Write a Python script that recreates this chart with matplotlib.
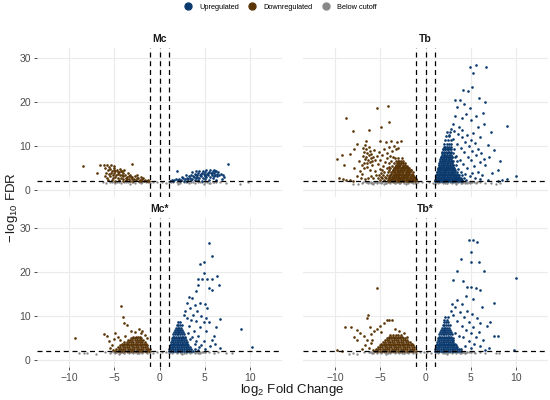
import numpy as np
import matplotlib
matplotlib.use("Agg")
import matplotlib.pyplot as plt
from matplotlib.lines import Line2D

plt.rcParams['font.family'] = ['Liberation Sans', 'DejaVu Sans']
plt.rcParams['mathtext.default'] = 'regular'

PANELS = ["Mc", "Tb", "Mc*", "Tb*"]
CATEGORIES = ["Upregulated", "Downregulated", "Below cutoff"]
COLORS = ["#0b3a6e", "#5a3508", "#888888"]
X_TICKS = [-10, -5, 0, 5, 10]
Y_TICKS = [0, 10, 20, 30]
FC_CUT = [-1, 0, 1]
FDR_CUT = 2

# ---------------- Mc ----------------
MC_DOWN = [(-8.5,5.5),(-6.6,5.6),(-6.2,5.7),(-5.8,5.6),(-5.4,5.6),(-5.1,5.5),(-3.0,5.9),(-6.9,3.8),
 (-6.0,4.9),(-5.7,4.6),(-5.5,4.8),(-5.3,4.4),(-5.1,4.6),(-4.9,4.3),(-4.7,4.5),(-4.5,4.1),(-4.3,4.2),(-4.1,3.9),
 (-5.9,3.9),(-5.6,3.6),(-5.4,3.9),(-5.2,3.5),(-5.0,3.8),(-4.8,3.4),(-4.6,3.6),(-4.4,3.3),(-4.2,3.5),(-4.0,3.1),
 (-3.8,3.4),(-3.6,3.0),(-3.4,3.2),(-3.2,2.9),(-3.0,3.0),(-6.1,3.1),(-5.8,2.8),(-5.5,3.1),(-5.2,2.7),(-4.9,2.9),
 (-4.6,2.6),(-4.3,2.8),(-4.0,2.5),(-3.7,2.6),(-3.4,2.4),(-3.1,2.5),(-2.8,2.4),(-2.5,2.6),(-2.2,2.3),(-1.9,2.4),
 (-1.6,2.2),(-1.3,2.3),(-5.7,2.2),(-5.3,2.3),(-4.9,2.1),(-4.5,2.2),(-4.1,2.1),(-3.7,2.2),(-3.3,2.1),(-2.9,2.1),
 (-2.6,2.2),(-2.3,2.1),(-2.0,2.1),(-1.7,2.05),(-1.4,2.1),(-1.2,2.05),(-3.9,4.5),(-4.4,4.8),(-2.5,3.4),(-2.0,2.9),
 (-3.5,3.8),(-2.7,3.1),(-5.0,5.0),(-4.6,4.0),(-3.3,3.5),(-5.6,5.2),(-4.2,4.4),(-3.6,2.4),(-2.4,2.8),(-1.8,2.6)]
MC_UP = [(7.6,5.9),(1.9,4.3),(1.2,2.1),(1.4,2.3),(1.6,2.2),(1.8,2.4),(2.0,2.2),(2.2,2.5),(2.4,2.3),(2.6,2.6),
 (2.8,2.4),(3.0,2.7),(3.2,2.5),(3.4,2.8),(3.6,2.4),(3.8,2.9),(4.0,2.6),(4.2,3.0),(4.4,2.7),(4.6,3.1),(4.8,2.8),
 (5.0,3.2),(5.2,2.9),(5.4,3.3),(5.6,3.0),(5.8,3.4),(6.0,3.1),(6.2,3.5),(6.4,3.2),(6.6,3.3),(2.5,3.0),(2.9,3.3),
 (3.3,3.1),(3.5,3.5),(3.7,3.2),(3.9,3.6),(4.1,3.4),(4.3,3.8),(4.5,3.5),(4.7,3.9),(4.9,3.6),(5.1,4.0),(5.3,3.7),
 (5.5,4.1),(5.7,3.8),(5.9,4.2),(6.1,3.9),(6.3,4.3),(6.5,4.0),(6.8,3.6),(7.0,3.4),(4.4,4.2),(4.8,4.4),(5.2,4.5),
 (5.6,4.5),(6.0,4.6),(6.2,4.4),(3.6,4.0),(4.0,4.2),(1.5,2.05),(2.3,2.1),(3.1,2.1),(3.9,2.15),(4.7,2.1),(5.5,2.2),
 (6.3,2.3),(6.9,2.5),(7.2,2.9),(3.5,2.2),(4.3,2.3),(5.1,2.4),(5.9,2.6),(2.7,2.1),(4.6,3.7),(5.4,3.9),(5.8,3.9),
 (6.4,3.7),(5.0,3.5),(4.2,3.3)]
MC_NS = [(-6.3,1.8),(-5.9,1.6),(-5.5,1.9),(-5.1,1.7),(-4.7,1.8),(-4.3,1.6),(-3.9,1.9),(-3.5,1.7),(-3.1,1.8),
 (-2.7,1.6),(-2.3,1.9),(-1.9,1.7),(-1.5,1.8),(-1.1,1.6),(-0.7,1.8),(-0.3,1.7),(0.3,1.8),(0.7,1.6),(1.1,1.9),
 (1.5,1.7),(1.9,1.8),(2.3,1.6),(2.7,1.9),(3.1,1.7),(3.5,1.8),(3.9,1.6),(4.3,1.9),(4.7,1.7),(5.1,1.8),(5.5,1.6),
 (5.9,1.9),(6.3,1.7),(6.7,1.8),(7.4,1.6),(8.9,1.3),(9.8,1.7),(-4.9,1.5),(-3.3,1.45),(-2.0,1.5),(2.0,1.45),
 (3.3,1.5),(4.9,1.45),(5.6,1.5),(-5.3,1.85),(-4.5,1.85),(-3.7,1.85),(-2.9,1.85),(-2.1,1.85),(-1.3,1.9),
 (1.3,1.85),(2.1,1.85),(2.9,1.85),(3.7,1.85),(4.5,1.85),(5.3,1.85),(6.1,1.85)]

# ---------------- Tb ----------------
TB_DOWN = [(-8.8,16.4),(-5.4,18.6),(-4.2,19.1),(-4.1,15.4),(-4.9,14.2),(-8.1,13.3),(-6.3,13.7),(-9.8,7.0),
 (-9.3,7.9),(-9.1,5.6),(-8.4,8.2),(-7.9,5.0),(-7.6,10.5),(-7.9,9.4),(-6.6,11.2),(-6.7,10.1),(-5.0,11.2),
 (-4.4,10.9),(-3.8,11.1),(-3.2,10.8),(-2.7,11.0),(-9.6,2.6),(-9.2,2.4),(-8.8,2.3),(-8.4,2.2),(-8.1,2.1),
 (-6.9,9.6),(-6.6,9.2),(-6.3,9.8),(-6.8,8.6),(-6.5,8.3),(-6.2,8.8),(-6.9,7.8),(-6.6,7.5),(-6.3,7.9),(-6.0,8.1),
 (-6.7,7.0),(-6.4,6.8),(-6.1,7.2),(-5.8,7.4),(-6.8,6.2),(-6.5,6.0),(-6.2,6.4),(-5.9,6.6),(-5.6,6.9),
 (-7.4,6.5),(-7.1,5.7),(-7.3,4.4),(-7.0,3.6),(-6.8,4.9),(-6.5,5.3),(-6.2,4.6),(-5.9,5.6),(-5.6,4.2),(-5.3,5.9),
 (-5.0,6.8),(-4.8,7.9),(-5.2,8.6),(-4.6,9.3),(-4.3,8.4),(-4.0,9.8),(-3.7,8.9),(-3.5,10.0),(-3.3,9.2),(-3.0,9.6),
 (-5.5,3.3),(-5.8,2.8),(-6.1,3.1),(-6.4,2.6),(-6.7,2.4),(-7.2,2.8),(-7.6,3.2),(-5.1,4.8),(-4.9,3.9),(-4.7,5.4),
 (-4.5,6.3),(-4.3,7.2),(-4.1,5.1),(-5.4,7.6),(-5.7,9.0),(-3.9,7.7),(-3.6,7.4)]
TB_DOWN_MID = [(2.2, [-5.0,-4.6,-4.2,-3.8,-3.4,-3.0,-2.6,-2.2,-1.8,-1.4,-1.1]),
 (2.6, [-5.3,-4.8,-4.4,-4.0,-3.6,-3.2,-2.8,-2.4,-2.0,-1.6,-1.2]),
 (3.0, [-4.9,-4.5,-4.1,-3.7,-3.3,-2.9,-2.5,-2.1,-1.7,-1.3]),
 (3.5, [-5.2,-4.7,-4.3,-3.9,-3.5,-3.1,-2.7,-2.3,-1.9,-1.5]),
 (4.0, [-4.6,-4.2,-3.8,-3.4,-3.0,-2.6,-2.2,-1.8,-1.4]),
 (4.5, [-4.8,-4.0,-3.6,-3.2,-2.8,-2.4,-2.0,-1.6]),
 (5.0, [-4.3,-3.9,-3.5,-3.1,-2.7,-2.3,-1.9]),
 (5.5, [-3.7,-3.3,-2.9,-2.5,-2.1]),
 (6.0, [-4.0,-3.5,-3.1,-2.7,-2.3]),
 (6.6, [-3.8,-3.3,-2.9,-2.5]),
 (7.2, [-3.4,-3.0,-2.6])]
TB_DOWN_CORE = [(2.1, [-4.2,-3.95,-3.7,-3.45,-3.2,-2.95,-2.7,-2.45,-2.2,-1.95,-1.7,-1.45,-1.2]),
 (2.5, [-4.1,-3.85,-3.6,-3.35,-3.1,-2.85,-2.6,-2.35,-2.1,-1.85,-1.6,-1.35,-1.1]),
 (2.9, [-4.0,-3.75,-3.5,-3.25,-3.0,-2.75,-2.5,-2.25,-2.0,-1.75,-1.5,-1.25]),
 (3.3, [-3.9,-3.65,-3.4,-3.15,-2.9,-2.65,-2.4,-2.15,-1.9,-1.65,-1.4]),
 (3.7, [-3.8,-3.55,-3.3,-3.05,-2.8,-2.55,-2.3,-2.05,-1.8,-1.55]),
 (4.1, [-3.7,-3.45,-3.2,-2.95,-2.7,-2.45,-2.2,-1.95,-1.7]),
 (4.5, [-3.6,-3.35,-3.1,-2.85,-2.6,-2.35,-2.1,-1.85,-1.6]),
 (4.9, [-3.5,-3.25,-3.0,-2.75,-2.5,-2.25,-2.0,-1.8]),
 (5.3, [-3.4,-3.15,-2.9,-2.65,-2.4,-2.15,-2.0]),
 (5.7, [-3.3,-3.05,-2.8,-2.55,-2.3]),
 (6.1, [-3.2,-2.95,-2.7,-2.45]),
 (6.5, [-3.0,-2.75])]
TB_UP = [(5.6,28.4),(4.9,27.8),(6.7,28.0),(5.3,26.6),(5.2,23.4),(4.2,22.7),(4.7,22.5),(3.3,20.4),(3.8,20.5),
 (4.3,19.6),(5.9,20.8),(6.6,20.0),(4.9,18.6),(3.5,18.9),(9.0,14.6),(7.3,13.1),(8.3,6.5),(6.9,10.3),(6.1,12.0),
 (10.1,3.2),(6.4,17.5),(5.6,16.8),(5.0,15.9),(4.5,17.2),(4.0,16.4),(5.8,14.2),(6.5,14.9),(5.3,13.0),(7.6,9.1),
 (7.0,7.4),(8.0,4.6),(7.4,3.8),(6.6,5.6),(9.0,2.4),(8.5,2.2),(8.0,2.1),(6.9,2.3),
 (3.0,15.0),(3.3,16.8),(3.7,14.3),(4.1,13.5),(4.6,12.4),(5.0,11.3),(5.5,10.6),(5.8,9.2),(6.2,8.4),(6.5,7.1),
 (6.0,6.4),(5.6,7.9),(5.2,8.8),(4.8,9.9),(4.4,10.8),(4.0,11.9),(3.6,12.7),(3.2,13.4),(2.8,13.9),(2.6,12.5),
 (5.4,5.4),(5.0,6.7),(4.7,7.5),(4.3,8.6),(3.9,9.5),(3.5,10.4),(3.1,11.5),(5.8,4.1),(6.3,3.3),(5.2,3.9),(4.6,4.9),
 (4.2,5.8),(3.8,6.9),(3.4,7.8),(5.5,2.8),(6.0,2.5),(4.9,3.1),(4.4,3.6)]
TB_UP_MID = [(2.2, [1.1,1.4,1.7,2.0,2.3,2.6,2.9,3.2,3.5,3.8,4.1,4.5]),
 (2.7, [1.15,1.45,1.75,2.05,2.35,2.65,2.95,3.25,3.6,3.9,4.3]),
 (3.3, [1.2,1.5,1.8,2.1,2.4,2.7,3.0,3.3,3.7,4.0]),
 (4.0, [1.3,1.6,1.9,2.2,2.5,2.8,3.1,3.5,3.9]),
 (4.8, [1.4,1.7,2.0,2.3,2.6,2.9,3.2,3.6]),
 (5.6, [1.5,1.8,2.1,2.4,2.7,3.0,3.4]),
 (6.5, [1.6,1.9,2.2,2.5,2.8,3.1,3.5]),
 (7.4, [1.7,2.0,2.3,2.6,2.9,3.3]),
 (8.4, [1.8,2.1,2.4,2.7,3.0]),
 (9.4, [1.9,2.2,2.5,2.8,3.2])]
TB_UP_CORE = [(2.1, [1.1,1.3,1.5,1.7,1.9,2.1,2.3,2.5,2.7,2.9,3.1,3.3,3.5,3.7,3.9,4.1]),
 (2.5, [1.15,1.35,1.55,1.75,1.95,2.15,2.35,2.55,2.75,2.95,3.15,3.35,3.55,3.75,3.95]),
 (2.9, [1.15,1.35,1.55,1.75,1.95,2.15,2.35,2.55,2.75,2.95,3.15,3.35,3.55,3.75]),
 (3.3, [1.2,1.4,1.6,1.8,2.0,2.2,2.4,2.6,2.8,3.0,3.2,3.4,3.6]),
 (3.7, [1.25,1.45,1.65,1.85,2.05,2.25,2.45,2.65,2.85,3.05,3.25,3.45]),
 (4.1, [1.3,1.5,1.7,1.9,2.1,2.3,2.5,2.7,2.9,3.1,3.3]),
 (4.5, [1.35,1.55,1.75,1.95,2.15,2.35,2.55,2.75,2.95,3.15,3.3]),
 (4.9, [1.4,1.6,1.8,2.0,2.2,2.4,2.6,2.8,3.0,3.2]),
 (5.3, [1.45,1.65,1.85,2.05,2.25,2.45,2.65,2.85,3.05]),
 (5.7, [1.5,1.7,1.9,2.1,2.3,2.5,2.7,2.9,3.0]),
 (6.1, [1.55,1.75,1.95,2.15,2.35,2.55,2.75,2.95]),
 (6.5, [1.6,1.8,2.0,2.2,2.4,2.6,2.8,2.95]),
 (7.0, [1.65,1.85,2.05,2.25,2.45,2.65,2.85]),
 (7.5, [1.7,1.9,2.1,2.3,2.5,2.7,2.9]),
 (8.0, [1.8,2.0,2.2,2.4,2.6,2.8]),
 (8.6, [1.85,2.05,2.25,2.45,2.65,2.8]),
 (9.2, [1.95,2.15,2.35,2.55,2.75]),
 (9.8, [2.0,2.2,2.4,2.6,2.8]),
 (10.5, [2.1,2.35,2.6,2.8]),
 (11.3, [2.2,2.5,2.8]),
 (12.2, [2.3,2.6]),
 (13.2, [2.4,2.7])]
TB_NS = [(-8.0,1.4),(-7.5,1.3),(-7.0,1.6),(-6.5,1.8),(-6.0,1.5),(-5.6,1.9),(-5.2,1.7),(-4.8,1.8),(-4.4,1.6),
 (-4.0,1.9),(-3.6,1.7),(-3.2,1.8),(-2.8,1.6),(-2.4,1.9),(-2.0,1.7),(-1.6,1.8),(-1.2,1.6),(-0.8,1.9),(-0.4,1.7),
 (0.4,1.8),(0.8,1.6),(1.2,1.9),(1.6,1.7),(2.0,1.8),(2.4,1.6),(2.8,1.9),(3.2,1.7),(3.6,1.8),(4.0,1.6),(4.4,1.9),
 (4.8,1.7),(5.2,1.8),(5.6,1.5),(6.0,1.8),(6.6,1.6),(7.3,1.5),(7.8,1.4),(8.3,1.6),(-5.8,1.45),(-4.6,1.45),
 (-3.4,1.5),(-2.2,1.45),(-1.0,1.5),(1.0,1.45),(2.2,1.5),(3.4,1.45),(4.6,1.5),(-6.9,1.9),(-1.4,1.95),(1.4,1.95),
 (3.0,1.95),(-3.0,1.95),(-4.2,1.95),(4.2,1.95)]
TB_NS_BAND = [(1.85, [-6.6,-6.3,-6.0,-5.7,-5.4,-5.1,-4.8,-4.5,-4.2,-3.9,-3.6,-3.3,-3.0,-2.7,-2.4,-2.1,-1.8,
                      -1.5,-1.2,1.2,1.5,1.8,2.1,2.4,2.7,3.0,3.3,3.6,3.9,4.2,4.5,4.8,5.1,5.4,5.7]),
 (1.6, [-6.4,-5.9,-5.4,-4.9,-4.4,-3.9,-3.4,-2.9,-2.4,-1.9,-1.4,1.4,1.9,2.4,2.9,3.4,3.9,4.4,4.9])]

# ---------------- Mc* ----------------
MCS_DOWN = [(-4.3,12.3),(-4.1,9.8),(-3.9,8.3),(-3.6,7.9),(-9.4,4.9),(-6.2,5.9),(-5.8,5.5),(-4.9,6.0),(-5.3,3.5),
 (-2.3,7.1),(-2.1,6.0),(-5.6,4.4),(-5.0,4.8),(-4.6,5.1),(-1.9,6.5),(-2.7,6.3),(-3.2,6.6),(-5.5,2.6),(-5.2,2.2),
 (-4.4,4.6),(-3.8,5.4),(-1.6,5.6),(-1.4,4.9)]
MCS_DOWN_CORE = [(2.1, [-4.9,-4.65,-4.4,-4.15,-3.9,-3.65,-3.4,-3.15,-2.9,-2.65,-2.4,-2.15,-1.9,-1.65,-1.4,-1.15]),
 (2.5, [-4.8,-4.55,-4.3,-4.05,-3.8,-3.55,-3.3,-3.05,-2.8,-2.55,-2.3,-2.05,-1.8,-1.55,-1.3,-1.1]),
 (2.9, [-4.6,-4.35,-4.1,-3.85,-3.6,-3.35,-3.1,-2.85,-2.6,-2.35,-2.1,-1.85,-1.6,-1.35]),
 (3.3, [-4.4,-4.15,-3.9,-3.65,-3.4,-3.15,-2.9,-2.65,-2.4,-2.15,-1.9,-1.65,-1.4]),
 (3.7, [-4.2,-3.95,-3.7,-3.45,-3.2,-2.95,-2.7,-2.45,-2.2,-1.95,-1.7,-1.45]),
 (4.1, [-3.9,-3.65,-3.4,-3.15,-2.9,-2.65,-2.4,-2.15,-1.9,-1.65]),
 (4.5, [-3.5,-3.25,-3.0,-2.75,-2.5,-2.25,-2.0,-1.8]),
 (4.9, [-3.2,-2.95,-2.7,-2.45,-2.2,-2.0]),
 (5.3, [-2.9,-2.65,-2.4,-2.15])]
MCS_UP = [(5.5,26.6),(5.8,23.5),(4.5,21.7),(4.9,22.2),(4.9,19.7),(4.3,18.4),(4.7,18.4),(5.3,18.4),(5.8,18.4),
 (6.4,19.0),(5.5,16.3),(5.8,15.9),(6.6,17.1),(4.3,17.0),(4.0,15.6),(3.6,14.1),(3.3,14.2),(4.5,13.0),(5.0,12.8),
 (5.3,11.7),(6.7,9.2),(9.0,7.1),(10.3,3.0),(6.0,5.5),(6.3,7.5),(5.5,8.5),(4.9,8.5),(3.9,12.5),(3.0,13.0),
 (4.2,11.0),(3.7,10.3),(4.6,10.0),(5.2,9.6),(3.4,11.8),(2.8,11.2),(6.2,3.6),(6.7,2.6),(5.8,4.6),(5.2,6.6),
 (4.5,7.4),(4.0,8.8),(3.5,9.0),(5.6,3.2),(4.9,4.4),(4.3,5.5),(3.8,6.5),(3.3,7.7),(5.0,2.4),(4.4,2.9),(3.9,3.6),
 (3.4,4.8),(3.0,9.5),(2.7,10.1),(3.2,6.0),(3.6,5.2),(4.1,4.4),(4.6,3.4),(3.9,2.4),(4.3,2.2)]
MCS_UP_CORE = [(2.1, [1.1,1.3,1.5,1.7,1.9,2.1,2.3,2.5,2.7,2.9,3.1,3.3,3.5,3.7]),
 (2.5, [1.1,1.3,1.5,1.7,1.9,2.1,2.3,2.5,2.7,2.9,3.1,3.3,3.5]),
 (2.9, [1.15,1.35,1.55,1.75,1.95,2.15,2.35,2.55,2.75,2.95,3.15,3.35]),
 (3.3, [1.2,1.4,1.6,1.8,2.0,2.2,2.4,2.6,2.8,3.0,3.2]),
 (3.7, [1.25,1.45,1.65,1.85,2.05,2.25,2.45,2.65,2.85,3.05]),
 (4.1, [1.3,1.5,1.7,1.9,2.1,2.3,2.5,2.7,2.9,3.1]),
 (4.5, [1.35,1.55,1.75,1.95,2.15,2.35,2.55,2.75,2.95]),
 (4.9, [1.4,1.6,1.8,2.0,2.2,2.4,2.6,2.8]),
 (5.3, [1.45,1.65,1.85,2.05,2.25,2.45,2.65,2.8]),
 (5.8, [1.5,1.7,1.9,2.1,2.3,2.5,2.7]),
 (6.3, [1.6,1.8,2.0,2.2,2.4,2.6]),
 (6.8, [1.7,1.9,2.1,2.3,2.5]),
 (7.3, [1.8,2.0,2.2,2.4]),
 (7.9, [1.9,2.1,2.3,2.5]),
 (8.5, [2.0,2.25])]
MCS_NS = [(-8.9,1.5),(-8.4,1.6),(-8.0,1.5),(-7.1,1.3),(-6.0,1.8),(-5.5,1.6),(-5.1,1.9),(-4.7,1.7),(-4.3,1.8),
 (-3.9,1.6),(-3.5,1.9),(-3.1,1.7),(-2.7,1.8),(-2.3,1.6),(-1.9,1.9),(-1.5,1.7),(-1.1,1.8),(-0.7,1.6),(-0.3,1.9),
 (0.3,1.7),(0.7,1.8),(1.1,1.6),(1.5,1.9),(1.9,1.7),(2.3,1.8),(2.7,1.6),(3.1,1.9),(3.5,1.7),(3.9,1.8),(4.3,1.6),
 (4.7,1.9),(5.1,1.7),(5.5,1.8),(6.0,1.6),(6.5,1.7),(7.4,1.5),(8.1,1.5),(-4.5,1.45),(-2.5,1.5),(2.5,1.45),
 (4.5,1.5)]
MCS_NS_BAND = [(1.85, [-5.4,-5.1,-4.8,-4.5,-4.2,-3.9,-3.6,-3.3,-3.0,-2.7,-2.4,-2.1,-1.8,-1.5,-1.2,
                       1.2,1.5,1.8,2.1,2.4,2.7,3.0,3.3,3.6,3.9,4.2,4.5,4.8,5.1]),
 (1.6, [-4.9,-4.4,-3.9,-3.4,-2.9,-2.4,-1.9,-1.4,1.4,1.9,2.4,2.9,3.4,3.9,4.4])]

# ---------------- Tb* ----------------
TBS_DOWN = [(-5.4,16.3),(-6.4,10.2),(-6.5,9.5),(-6.2,7.5),(-8.9,7.4),(-8.3,7.4),(-7.6,6.8),(-7.3,6.1),(-7.9,5.2),
 (-7.6,4.6),(-4.3,9.0),(-4.0,9.0),(-3.7,9.1),(-4.6,8.3),(-9.8,2.3),(-9.3,2.1),(-6.8,5.4),(-6.5,4.5),(-6.0,5.8),
 (-5.7,6.5),(-5.4,7.0),(-5.1,7.6),(-6.7,3.4),(-6.3,2.7),(-7.0,2.4),(-6.1,3.8),(-5.9,4.6),(-5.8,2.3),(-4.9,6.4),
 (-3.4,7.1),(-2.9,6.6),(-2.4,6.0),(-2.0,5.2)]
TBS_DOWN_CORE = [(2.1, [-5.6,-5.35,-5.1,-4.85,-4.6,-4.35,-4.1,-3.85,-3.6,-3.35,-3.1,-2.85,-2.6,-2.35,-2.1,-1.85,-1.6,-1.35,-1.1]),
 (2.5, [-5.5,-5.25,-5.0,-4.75,-4.5,-4.25,-4.0,-3.75,-3.5,-3.25,-3.0,-2.75,-2.5,-2.25,-2.0,-1.75,-1.5,-1.25]),
 (2.9, [-5.3,-5.05,-4.8,-4.55,-4.3,-4.05,-3.8,-3.55,-3.3,-3.05,-2.8,-2.55,-2.3,-2.05,-1.8,-1.55,-1.3]),
 (3.3, [-5.1,-4.85,-4.6,-4.35,-4.1,-3.85,-3.6,-3.35,-3.1,-2.85,-2.6,-2.35,-2.1,-1.85,-1.6,-1.4]),
 (3.7, [-4.9,-4.65,-4.4,-4.15,-3.9,-3.65,-3.4,-3.15,-2.9,-2.65,-2.4,-2.15,-1.9,-1.65,-1.5]),
 (4.1, [-4.7,-4.45,-4.2,-3.95,-3.7,-3.45,-3.2,-2.95,-2.7,-2.45,-2.2,-1.95,-1.7]),
 (4.5, [-4.5,-4.25,-4.0,-3.75,-3.5,-3.25,-3.0,-2.75,-2.5,-2.25,-2.0]),
 (4.9, [-4.3,-4.05,-3.8,-3.55,-3.3,-3.05,-2.8,-2.55,-2.3]),
 (5.3, [-4.1,-3.85,-3.6,-3.35,-3.1,-2.85,-2.6]),
 (5.7, [-3.9,-3.6,-3.3,-3.0,-2.7])]
TBS_UP = [(4.8,27.2),(5.3,27.3),(5.7,26.7),(5.0,24.6),(3.9,23.0),(5.1,22.3),(5.9,22.3),(6.5,20.2),(3.5,20.2),
 (3.1,18.1),(4.2,18.0),(4.6,16.6),(5.0,16.5),(5.6,16.3),(6.0,15.9),(10.1,18.6),(7.6,12.9),(7.2,8.6),(6.8,7.7),
 (7.6,5.4),(8.1,5.4),(9.8,2.3),(3.5,13.5),(4.0,12.6),(4.6,11.2),(5.2,10.4),(5.7,9.6),(6.1,8.3),(5.9,6.4),
 (5.3,7.4),(4.8,8.6),(4.3,9.7),(3.8,10.8),(3.3,11.9),(2.9,12.8),(6.4,4.6),(5.6,5.2),(5.0,6.0),(4.5,6.9),
 (4.0,7.8),(3.5,8.9),(6.1,3.1),(5.4,3.7),(4.8,4.4),(4.2,5.1),(7.1,2.6),(6.6,2.2),(4.5,14.5),(5.3,13.8),(6.3,12.0),
 (3.1,10.2),(2.8,11.0),(3.3,6.2),(3.7,5.5),(4.4,3.2),(5.0,2.7),(3.9,2.5)]
TBS_UP_CORE = [(2.1, [1.1,1.3,1.5,1.7,1.9,2.1,2.3,2.5,2.7,2.9,3.1,3.3,3.5,3.7,3.9]),
 (2.5, [1.1,1.3,1.5,1.7,1.9,2.1,2.3,2.5,2.7,2.9,3.1,3.3,3.5,3.7]),
 (2.9, [1.15,1.35,1.55,1.75,1.95,2.15,2.35,2.55,2.75,2.95,3.15,3.35,3.5]),
 (3.3, [1.2,1.4,1.6,1.8,2.0,2.2,2.4,2.6,2.8,3.0,3.2,3.4]),
 (3.7, [1.25,1.45,1.65,1.85,2.05,2.25,2.45,2.65,2.85,3.05,3.25]),
 (4.1, [1.3,1.5,1.7,1.9,2.1,2.3,2.5,2.7,2.9,3.1]),
 (4.5, [1.35,1.55,1.75,1.95,2.15,2.35,2.55,2.75,2.95,3.1]),
 (4.9, [1.4,1.6,1.8,2.0,2.2,2.4,2.6,2.8,3.0]),
 (5.3, [1.45,1.65,1.85,2.05,2.25,2.45,2.65,2.85]),
 (5.8, [1.5,1.7,1.9,2.1,2.3,2.5,2.7,2.9]),
 (6.3, [1.6,1.8,2.0,2.2,2.4,2.6,2.8]),
 (6.8, [1.7,1.9,2.1,2.3,2.5,2.7]),
 (7.3, [1.8,2.0,2.2,2.4,2.6]),
 (7.9, [1.9,2.1,2.3,2.5,2.7]),
 (8.5, [2.0,2.25,2.5]),
 (9.1, [2.1,2.4]),
 (9.7, [2.2,2.5])]
TBS_NS = [(-8.5,1.4),(-8.0,1.5),(-7.6,1.4),(-6.8,1.7),(-6.2,1.8),(-5.8,1.6),(-5.4,1.9),(-5.0,1.7),(-4.6,1.8),
 (-4.2,1.6),(-3.8,1.9),(-3.4,1.7),(-3.0,1.8),(-2.6,1.6),(-2.2,1.9),(-1.8,1.7),(-1.4,1.8),(-1.0,1.6),(-0.6,1.9),
 (-0.2,1.7),(0.2,1.8),(0.6,1.6),(1.0,1.9),(1.4,1.7),(1.8,1.8),(2.2,1.6),(2.6,1.9),(3.0,1.7),(3.4,1.8),(3.8,1.6),
 (4.2,1.9),(4.6,1.7),(5.0,1.8),(5.5,1.6),(6.0,1.8),(6.6,1.6),(7.8,1.5),(8.2,1.6),(-4.4,1.45),(-2.4,1.5),
 (2.4,1.45),(4.4,1.5)]
TBS_NS_BAND = [(1.85, [-6.3,-6.0,-5.7,-5.4,-5.1,-4.8,-4.5,-4.2,-3.9,-3.6,-3.3,-3.0,-2.7,-2.4,-2.1,-1.8,-1.5,-1.2,
                       1.2,1.5,1.8,2.1,2.4,2.7,3.0,3.3,3.6,3.9,4.2,4.5,4.8,5.1,5.4]),
 (1.6, [-5.9,-5.4,-4.9,-4.4,-3.9,-3.4,-2.9,-2.4,-1.9,-1.4,1.4,1.9,2.4,2.9,3.4,3.9,4.4])]


def expand(pairs, *row_sets):
    pts = list(pairs)
    for rows in row_sets:
        for y, xs in rows:
            pts += [(x, y) for x in xs]
    a = np.array(pts, dtype=float)
    return a[:, 0], a[:, 1]


DATA = {
    "Mc": (expand(MC_UP), expand(MC_DOWN), expand(MC_NS)),
    "Tb": (expand(TB_UP, TB_UP_MID, TB_UP_CORE), expand(TB_DOWN, TB_DOWN_MID, TB_DOWN_CORE),
           expand(TB_NS, TB_NS_BAND)),
    "Mc*": (expand(MCS_UP, MCS_UP_CORE), expand(MCS_DOWN, MCS_DOWN_CORE), expand(MCS_NS, MCS_NS_BAND)),
    "Tb*": (expand(TBS_UP, TBS_UP_CORE), expand(TBS_DOWN, TBS_DOWN_CORE), expand(TBS_NS, TBS_NS_BAND)),
}

fig = plt.figure(figsize=(5.5, 4), dpi=100)
W, H = 550.0, 400.0
lefts = [37 / W, 303 / W]
bottoms = [1 - 197 / H, 1 - 367 / H]
aw, ah = 245 / W, 149 / H

for i, name in enumerate(PANELS):
    r, c = divmod(i, 2)
    ax = fig.add_axes([lefts[c], bottoms[r], aw, ah])
    up, down, ns = DATA[name]
    ax.scatter(ns[0], ns[1], s=2.8, color=COLORS[2], linewidths=0, zorder=2)
    ax.scatter(down[0], down[1], s=3.6, color=COLORS[1], linewidths=0, zorder=3)
    ax.scatter(up[0], up[1], s=3.6, color=COLORS[0], linewidths=0, zorder=3)
    for xv in FC_CUT:
        ax.axvline(xv, color="black", lw=0.9, ls=(0, (4, 3)), zorder=4)
    ax.axhline(FDR_CUT, color="black", lw=0.9, ls=(0, (4, 3)), zorder=4)
    ax.set_xlim(-13.6, 13.6)
    ax.set_ylim(-1.6, 32.2)
    ax.set_xticks(X_TICKS)
    ax.set_yticks(Y_TICKS)
    ax.grid(True, color="#ebebeb", lw=0.8, zorder=0)
    ax.set_axisbelow(True)
    for s in ax.spines.values():
        s.set_visible(False)
    ax.tick_params(colors="#333333", labelcolor="#4d4d4d", labelsize=7.5, length=2.5, width=0.6, pad=2)
    if c == 1:
        ax.tick_params(axis="y", left=False, labelleft=False)
    if r == 0:
        ax.tick_params(axis="x", bottom=False, labelbottom=False)
    ax.text(0.5, 1.025, name, transform=ax.transAxes, ha="center", va="bottom",
            fontsize=7.5, fontweight="bold", color="#1a1a1a")

fig.text(0.022, 0.48, r"$-\,log_{10}$ FDR", rotation=90, ha="center", va="center",
         fontsize=9.5, color="#1a1a1a")
fig.text(0.532, 0.025, r"$log_2$ Fold Change", ha="center", va="center",
         fontsize=9.5, color="#1a1a1a")

handles = [Line2D([], [], marker="o", ls="", color=col, markersize=5) for col in COLORS]
fig.legend(handles, CATEGORIES, loc="upper center", bbox_to_anchor=(0.51, 1.008), ncol=3,
           frameon=False, fontsize=5.3, handletextpad=1.0, columnspacing=1.3, handlelength=1.0)

fig.savefig("out.png", dpi=100)
